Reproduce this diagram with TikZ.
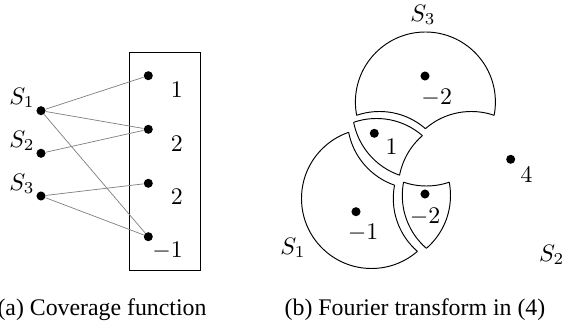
\documentclass[tikz,border=0pt]{standalone}
\usepackage{fontspec}
\newfontfamily\capfont{Liberation Serif}
\usetikzlibrary{positioning}
\def\crad{70}
\newcommand*{\inclip}[1]{\clip #1 circle (\crad);}
\newcommand*{\outclip}[1]{\clip (-100,-100) -- (700,-100) -- (700,450) -- (-100,450) -- cycle
  #1 ++(\crad,0) arc[start angle=0,end angle=-360,radius=\crad] -- cycle;}
\newcommand*{\piece}[3]{\begin{scope}#2#3\draw #1 circle (\crad);\end{scope}}
\newcommand*{\ca}{(376.5,142.5)}
\newcommand*{\cb}{(468.3,142.5)}
\newcommand*{\cc}{(422.4,222)}
\tikzset{
  dot/.style={circle, fill=black, inner sep=0pt, minimum size=3.8pt},
  val/.style={inner sep=0pt, anchor=east},
  link/.style={gray, line width=0.3pt},
  captext/.style={font=\capfont}
}

\begin{document}
\begin{tikzpicture}[x=0.42pt,y=0.42pt,line width=0.4pt]
  \useasboundingbox (0,0) rectangle (581,331);

  % (a) coverage function
  \draw (129.3,61) rectangle (200.3,278.7);
  \node[dot] (s1) at (41,220.3) {};
  \node[dot] (s2) at (41,177.7) {};
  \node[dot] (s3) at (41,135) {};
  \node (ls1) at (22,233) {$S_1$};
  \node (ls2) at (22,190) {$S_2$};
  \node (ls3) at (22,147) {$S_3$};
  \node[dot] (e1) at (148.3,255.3) {};
  \node[dot] (e2) at (148.3,201.7) {};
  \node[dot] (e3) at (148.3,147.7) {};
  \node[dot] (e4) at (148.3,94.3) {};
  \node[val] (v1) at (183.3,241) {$1$};
  \node[val] (v2) at (183.3,187) {$2$};
  \node[val] (v3) at (183.3,134) {$2$};
  \node[val] (v4) at (183.3,80.3) {$-1$};
  \draw[link] (s1) -- (e1);
  \draw[link] (s1) -- (e2);
  \draw[link] (s1) -- (e4);
  \draw[link] (s2) -- (e2);
  \draw[link] (s3) -- (e3);
  \draw[link] (s3) -- (e4);
  \node[captext] (capa) at (102,21) {(a) Coverage function};

  % (b) Fourier transform
  % S3 only
  \begin{scope}[shift={(3,7)}]
    \piece{\cc}{\outclip\ca}{\outclip\cb}
    \piece{\ca}{\inclip\cc}{\outclip\cb}
    \piece{\cb}{\inclip\cc}{\outclip\ca}
  \end{scope}
  % S1 and S3
  \begin{scope}
    \piece{\ca}{\inclip\cc}{\outclip\cb}
    \piece{\cc}{\inclip\ca}{\outclip\cb}
    \piece{\cb}{\inclip\ca}{\inclip\cc}
  \end{scope}
  % S1 and S2
  \begin{scope}[shift={(4,-7)}]
    \piece{\ca}{\inclip\cb}{\outclip\cc}
    \piece{\cb}{\inclip\ca}{\outclip\cc}
    \piece{\cc}{\inclip\ca}{\inclip\cb}
  \end{scope}
  % S1 only
  \begin{scope}[shift={(-5,-10)}]
    \piece{\ca}{\outclip\cb}{\outclip\cc}
    \piece{\cb}{\inclip\ca}{\outclip\cc}
    \piece{\cc}{\inclip\ca}{\outclip\cb}
  \end{scope}

  \node[dot] (f3) at (425,255) {};
  \node[dot] (f13) at (374.3,197.7) {};
  \node[dot] (f12) at (425,137) {};
  \node[dot] (f1) at (356,119.3) {};
  \node[dot] (f0) at (510.7,171.7) {};
  \node (w3) at (436.7,232.7) {$-2$};
  \node (w13) at (391.7,184.3) {$1$};
  \node (w12) at (425,114.3) {$-2$};
  \node (w1) at (363,98) {$-1$};
  \node (w0) at (526.7,156) {$4$};
  \node (t3) at (423,316) {$S_3$};
  \node (t1) at (293,83) {$S_1$};
  \node (t2) at (551.7,76) {$S_2$};
  \node[captext] (capb) at (415,21) {(b) Fourier transform in (4)};
\end{tikzpicture}
\end{document}
